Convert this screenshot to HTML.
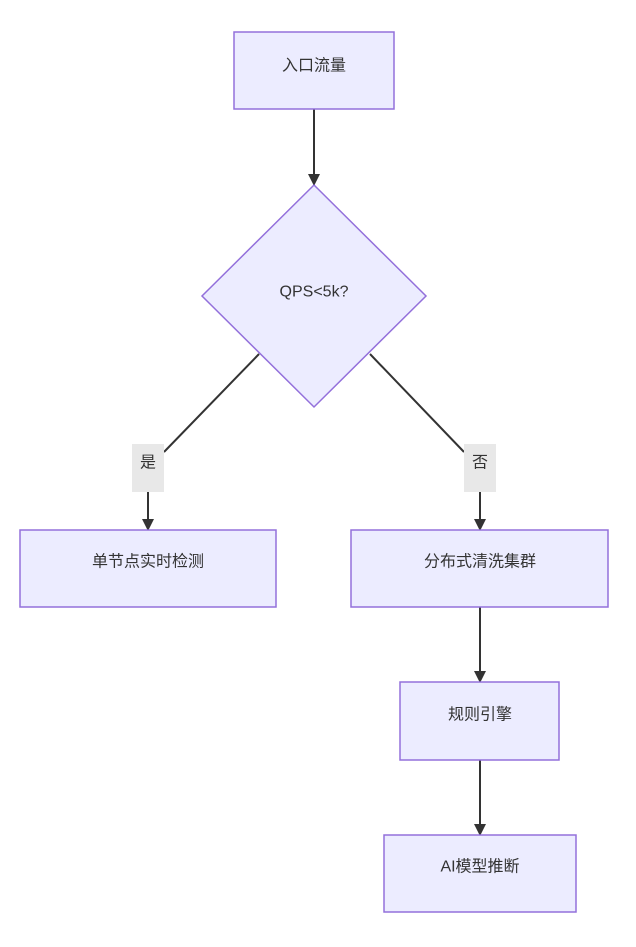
<!DOCTYPE html>
<html><head><meta charset="utf-8"><style>
html,body{margin:0;padding:0;background:#fff;}
svg{display:block}
text{font-family:"Liberation Sans","Noto Sans CJK SC",sans-serif;font-size:16px;fill:#333;text-anchor:middle;dominant-baseline:central}
.n{fill:#ECECFF;stroke:#9370DB;stroke-width:1.5}
.e{stroke:#333;stroke-width:2;fill:none}
.lb{fill:#e8e8e8}
</style></head><body>
<svg width="636" height="947" viewBox="0 0 636 947">
<defs><marker id="a" viewBox="0 0 10 10" refX="9" refY="5" markerWidth="8" markerHeight="8" markerUnits="userSpaceOnUse" orient="auto"><path d="M0,0L10,5L0,10z" fill="#333"/></marker>
<marker id="b" viewBox="0 0 12 12" refX="11" refY="6" markerWidth="12" markerHeight="12" markerUnits="userSpaceOnUse" orient="auto"><path d="M0,0L12,6L0,12z" fill="#333"/></marker></defs>
<path class="e" d="M314,109 L314,185" marker-end="url(#b)"/>
<path class="e" d="M259,354 L164,452"/>
<path class="e" d="M148,492 L148,530" marker-end="url(#b)"/>
<path class="e" d="M370,354 L464,452"/>
<path class="e" d="M480,492 L480,530" marker-end="url(#b)"/>
<path class="e" d="M480,607 L480,682" marker-end="url(#b)"/>
<path class="e" d="M480,760 L480,835" marker-end="url(#b)"/>
<rect class="n" x="234" y="32" width="160" height="77"/>
<text x="314" y="66">入口流量</text>
<polygon class="n" points="314,185 426,296 314,407 202,296"/>
<text x="314" y="292">QPS&lt;5k?</text>
<rect class="lb" x="132" y="444" width="32" height="48"/>
<text x="148" y="463">是</text>
<rect class="lb" x="464" y="444" width="32" height="48"/>
<text x="480" y="463">否</text>
<rect class="n" x="20" y="530" width="256" height="77"/>
<text x="148" y="562">单节点实时检测</text>
<rect class="n" x="351" y="530" width="257" height="77"/>
<text x="480" y="562">分布式清洗集群</text>
<rect class="n" x="400" y="682" width="159" height="78"/>
<text x="480" y="715">规则引擎</text>
<rect class="n" x="384" y="835" width="192" height="77"/>
<text x="480" y="867">AI模型推断</text>
</svg>
</body></html>
